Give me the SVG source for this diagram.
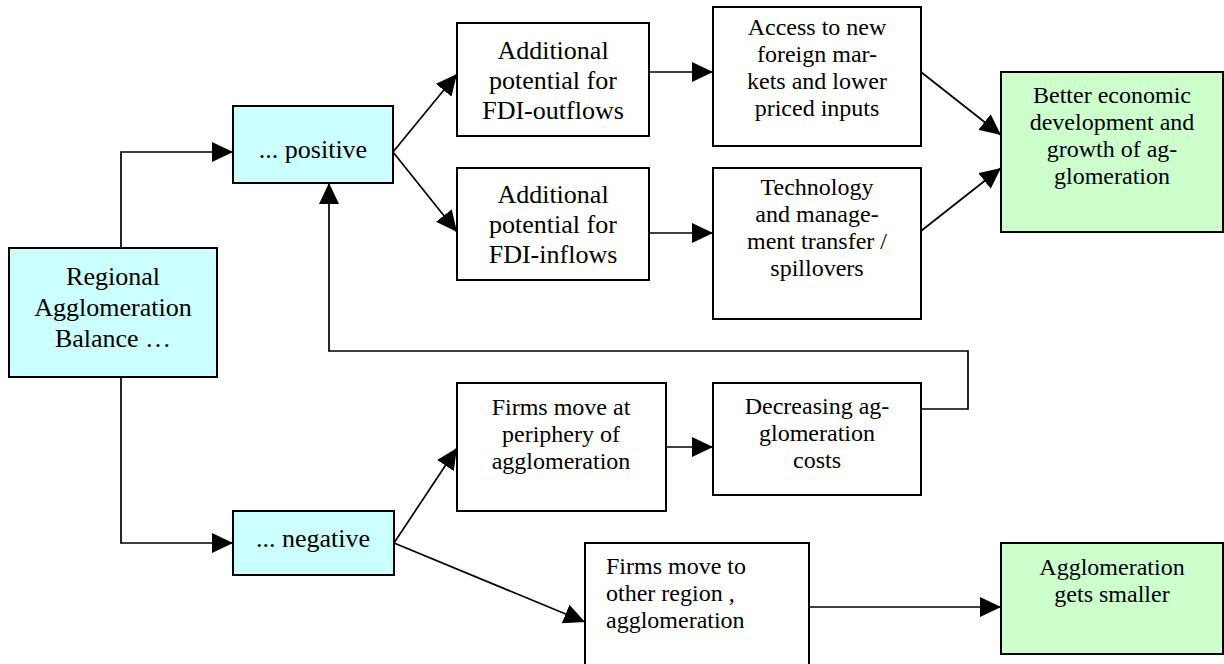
<svg xmlns="http://www.w3.org/2000/svg" width="1224" height="664" viewBox="0 0 1224 664">
<style>
.box{stroke:#000;stroke-width:2}
.cyan{fill:#CCFFFF}
.green{fill:#CCFFCC}
.white{fill:#FFFFFF}
text{font-family:"Liberation Serif","Times New Roman",serif;font-size:26px;fill:#000}
.s{font-size:24px}
.c{text-anchor:middle}
.conn{fill:none;stroke:#000;stroke-width:1.7}
</style>
<defs>
<marker id="arr" markerUnits="userSpaceOnUse" markerWidth="21" markerHeight="20" refX="21" refY="10" orient="auto">
<path d="M0,0 L21,10 L0,20 z" fill="#000"/>
</marker>
</defs>
<rect width="1224" height="664" fill="#fff"/>
<g id="connectors">
<path class="conn" d="M121,248 V152 H233" marker-end="url(#arr)"/>
<path class="conn" d="M121,377 V543 H233" marker-end="url(#arr)"/>
<path class="conn" d="M393,152 L457,74" marker-end="url(#arr)"/>
<path class="conn" d="M393,152 L457,232" marker-end="url(#arr)"/>
<path class="conn" d="M649,72 H713" marker-end="url(#arr)"/>
<path class="conn" d="M649,233 H713" marker-end="url(#arr)"/>
<path class="conn" d="M921,72 L1001,135" marker-end="url(#arr)"/>
<path class="conn" d="M921,231 L1001,168" marker-end="url(#arr)"/>
<path class="conn" d="M394,543 L457,448" marker-end="url(#arr)"/>
<path class="conn" d="M394,543 L585,622" marker-end="url(#arr)"/>
<path class="conn" d="M666,447 H713" marker-end="url(#arr)"/>
<path class="conn" d="M921,409 H968 V351 H329 V183" marker-end="url(#arr)"/>
<path class="conn" d="M809,607 H1001" marker-end="url(#arr)"/>
</g>
<g id="regional">
<rect class="box cyan" x="9" y="248" width="208" height="129"/>
<text class="c" x="113" y="285">Regional</text>
<text class="c" x="113" y="316">Agglomeration</text>
<text class="c" x="113" y="347">Balance …</text>
</g>
<g id="positive">
<rect class="box cyan" x="233" y="106" width="160" height="77"/>
<text class="c" x="313" y="158">... positive</text>
</g>
<g id="negative">
<rect class="box cyan" x="233" y="511" width="161" height="64"/>
<text class="c" x="313" y="547">... negative</text>
</g>
<g id="fdi-outflows">
<rect class="box white" x="457" y="23" width="192" height="113"/>
<text class="c" x="553" y="59">Additional</text>
<text class="c" x="553" y="89">potential for</text>
<text class="c" x="553" y="119">FDI-outflows</text>
</g>
<g id="fdi-inflows">
<rect class="box white" x="457" y="168" width="192" height="112"/>
<text class="c" x="553" y="203">Additional</text>
<text class="c" x="553" y="233">potential for</text>
<text class="c" x="553" y="263">FDI-inflows</text>
</g>
<g id="access">
<rect class="box white" x="713" y="7" width="208" height="139"/>
<text class="c s" x="817" y="35">Access to new</text>
<text class="c s" x="817" y="62">foreign mar-</text>
<text class="c s" x="817" y="89">kets and lower</text>
<text class="c s" x="817" y="116">priced inputs</text>
</g>
<g id="technology">
<rect class="box white" x="713" y="168" width="208" height="151"/>
<text class="c s" x="817" y="195">Technology</text>
<text class="c s" x="817" y="222">and manage-</text>
<text class="c s" x="817" y="249">ment transfer /</text>
<text class="c s" x="817" y="276">spillovers</text>
</g>
<g id="better">
<rect class="box green" x="1001" y="72" width="222" height="160"/>
<text class="c s" x="1112" y="103">Better economic</text>
<text class="c s" x="1112" y="130">development and</text>
<text class="c s" x="1112" y="157">growth of ag-</text>
<text class="c s" x="1112" y="184">glomeration</text>
</g>
<g id="periphery">
<rect class="box white" x="457" y="383" width="209" height="128"/>
<text class="c s" x="561" y="415">Firms move at</text>
<text class="c s" x="561" y="442">periphery of</text>
<text class="c s" x="561" y="469">agglomeration</text>
</g>
<g id="decreasing">
<rect class="box white" x="713" y="383" width="208" height="112"/>
<text class="c s" x="817" y="414">Decreasing ag-</text>
<text class="c s" x="817" y="441">glomeration</text>
<text class="c s" x="817" y="468">costs</text>
</g>
<g id="other-region">
<rect class="box white" x="585" y="543" width="224" height="140"/>
<text class="s" x="606" y="574">Firms move to</text>
<text class="s" x="606" y="601">other region ,</text>
<text class="s" x="606" y="628">agglomeration</text>
</g>
<g id="smaller">
<rect class="box green" x="1001" y="543" width="222" height="111"/>
<text class="c s" x="1112" y="575">Agglomeration</text>
<text class="c s" x="1112" y="602">gets smaller</text>
</g>
</svg>
